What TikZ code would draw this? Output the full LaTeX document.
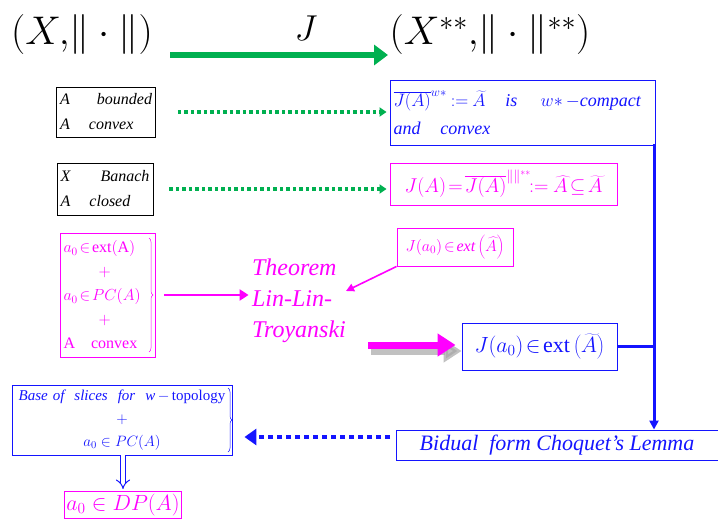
\documentclass[tikz,border=0pt]{standalone}
\usepackage{fix-cm}
\usepackage{fontspec}
\setmainfont{Liberation Serif}
\usetikzlibrary{arrows.meta,decorations.pathreplacing}
\definecolor{mygreen}{RGB}{0,176,80}
\definecolor{myblue}{RGB}{20,20,255}
\definecolor{mymag}{RGB}{255,0,255}
\newcommand{\fs}[2]{\fontsize{#1}{#2}\selectfont}
\tikzset{
  boxb/.style={draw=black, line width=0.7pt, inner sep=2pt, align=left, font=\itshape\fs{16}{25}},
  boxbl/.style={draw=myblue, line width=0.9pt, text=myblue, inner sep=2pt},
  boxm/.style={draw=mymag, line width=0.9pt, text=mymag, inner sep=2pt},
  gdot/.style={mygreen, line width=3.5pt, dash pattern=on 3.5pt off 3pt, -{Triangle[length=7pt,width=9pt]}},
}
\begin{document}
\begin{tikzpicture}[x=1pt,y=-1pt]
\useasboundingbox (0,0) rectangle (718,519);
% titles
\node (L) at (82,35) {\fs{40}{40}$\Bigl(X,\!\|\cdot\|\Bigr)$};
\node (R) at (490,35) {\fs{40}{40}$\Bigl(X^{**},\!\|\cdot\|^{**}\Bigr)$};
\node (J) at (306,28) {\fs{36}{36}$J$};
\coordinate (ga) at (170,55);
\coordinate (gb) at (388,55);
\draw[mygreen, line width=6pt, -{Triangle[length=14pt,width=20pt]}] (ga) -- (gb);
% left black boxes
\node[boxb, minimum width=99pt, minimum height=50pt, text width=92pt] (b1) at (106,112) {A\hfill bounded\\A\hspace{1.2em}convex};
\node[boxb, minimum width=96pt, minimum height=52pt, text width=89pt] (b2) at (105,189) {X\hfill Banach\\A\hspace{1.2em}closed};
% right boxes
\node[boxbl, minimum width=265pt, minimum height=65pt, text width=258pt, align=left, font=\itshape\fs{18}{28}] (c1) at (522.5,112.5)
 {\mbox{$\overline{J(A)}^{w*}\mathbin{{:}{=}}\widetilde{A}$\hspace{1.1em}is\hspace{1.3em}$w{*}$\,$-$compact}\\and\hspace{1.1em}convex};
\node[boxm, minimum width=227pt, minimum height=42pt] (c2) at (503.5,184)
 {\fs{20}{20}$J(A)\!=\!\overline{J(A)}^{\|\|^{**}}\!\!\mathbin{{:}{=}}\widehat{A}\!\subseteq\!\widetilde{A}$};
\draw[gdot, shorten <=22pt, shorten >=3pt] (b1.east) -- (b1.east -| c1.west);
\draw[gdot, shorten <=16pt, shorten >=3pt] (b2.east) -- (b2.east -| c2.west);
% magenta conditions box
\node[boxm, minimum width=95pt, minimum height=124pt, text width=88pt, align=left, font=\fs{16}{24}] (m1) at (107.5,295)
 {$a_0\!\in\!\mathrm{ext(A)}$\\\hspace*{2.2em}$+$\\$a_0\!\in\! PC(A)$\\\hspace*{2.2em}$+$\\A\hspace{1em}convex};
\coordinate (br1) at (149,238);
\coordinate (br2) at (149,352);
\draw[mymag, line width=0.5pt, decorate, decoration={brace, amplitude=4pt}] (br1) -- (br2);
\node[text=mymag, align=left, font=\itshape\fs{24}{31}] (th) at (299,301) {Theorem\\Lin-Lin-\\Troyanski};
\draw[mymag, line width=2.5pt, -{Triangle[length=9pt,width=11pt]}] (m1.east) ++(9,0) coordinate (ma) -- (th.west |- ma);
\node[boxm, minimum width=116pt, minimum height=38pt] (m2) at (455,247)
 {\fs{16}{16}$J(a_0)\!\in\! \mathit{ext}\left(\widehat{A}\right)$};
\coordinate (thr) at (346,291);
\draw[mymag, line width=1.6pt, -{Triangle[length=8pt,width=8pt]}] (m2.south west) -- (thr);
% big arrow with shadow
\node[boxbl, minimum width=155pt, minimum height=47pt] (m3) at (539.5,346.5)
 {\fs{22}{22}$J(a_0)\!\in\!\mathrm{ext}\left(\widetilde{A}\right)$};
\coordinate (ba) at (368,345);
\draw[gray!70, line width=7pt, -{Triangle[length=18pt,width=22pt]}, opacity=0.7, shorten >=3pt] ([shift={(3,6)}]ba) -- ([shift={(3,6)}]m3.west |- ba);
\draw[mymag, line width=7pt, -{Triangle[length=18pt,width=22pt]}, shorten >=6pt] (ba) -- (m3.west |- ba);
% bidual
\node[boxbl, minimum width=322pt, minimum height=30pt, font=\itshape\fs{22}{22}] (bid) at (557,445) {Bidual\ \ form Choquet's Lemma};
\coordinate (vt) at (654,144);
\draw[myblue, line width=3pt, -{Triangle[length=9pt,width=9pt]}] (vt) -- (vt |- bid.north);
\draw[myblue, line width=2.5pt] (m3.east) -- (m3.east -| vt);
% base of slices
\node[boxbl, minimum width=220pt, minimum height=70pt, text width=214pt, align=center, font=\fs{15}{23}] (bs) at (122,420)
 {\mbox{\textit{Base of\ \ slices\ \ for\ \ w}\,$-$\,topology}\\$+$\\\mbox{$a_0\in PC(A)$}};
\coordinate (bb1) at (228,388);
\coordinate (bb2) at (228,452);
\draw[myblue, line width=0.5pt, decorate, decoration={brace, amplitude=4pt}] (bb1) -- (bb2);
\coordinate (bd) at (390,437);
\draw[myblue, line width=4pt, dash pattern=on 5pt off 4pt, -{Triangle[length=12pt,width=16pt]}, shorten >=12pt] (bd) -- (bs.east |- bd);
\node[boxm, minimum width=98pt, minimum height=27pt] (dp) at (123,505) {\fs{22}{22}$a_0\in DP(A)$};
\draw[myblue, line width=1pt, double distance=4pt, -{Implies}] (bs.south -| dp) -- ([yshift=2pt]dp.north);
\end{tikzpicture}
\end{document}
